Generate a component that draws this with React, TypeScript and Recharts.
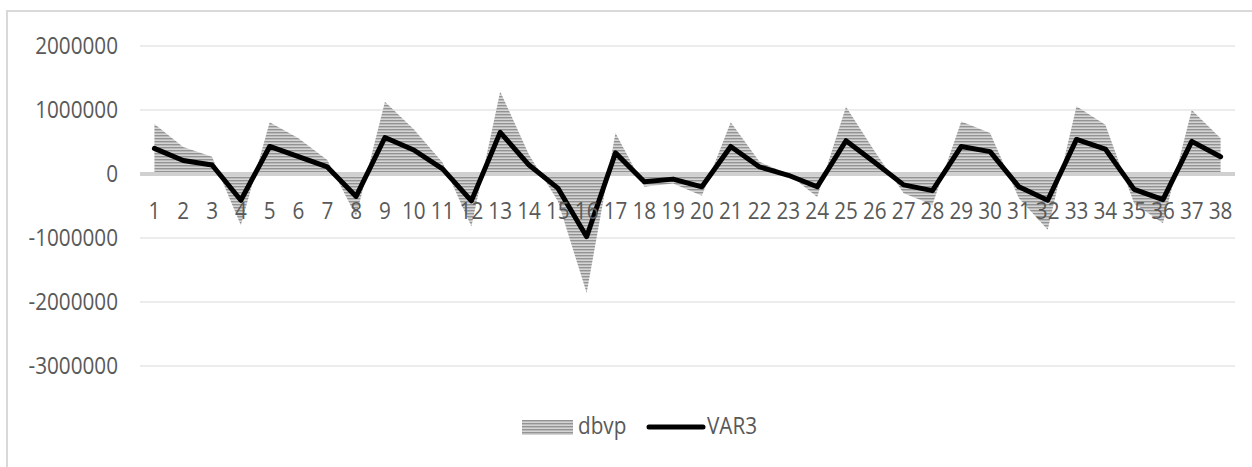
import {
  Area, CartesianGrid, ComposedChart, Legend, Line, ReferenceLine, XAxis, YAxis,
} from "recharts";

const W = 1252;
const H = 467;

const categories = [
  "1", "2", "3", "4", "5", "6", "7", "8", "9", "10", "11", "12", "13", "14", "15", "16", "17", "18", "19",
  "20", "21", "22", "23", "24", "25", "26", "27", "28", "29", "30", "31", "32", "33", "34", "35", "36", "37", "38",
];

const dbvp = [
  780000, 420000, 270000, -800000, 810000, 560000, 220000, -660000, 1130000, 700000,
  180000, -820000, 1290000, 300000, -420000, -1860000, 640000, -200000, -150000, -340000,
  810000, 190000, 0, -360000, 1050000, 350000, -300000, -480000, 820000, 640000,
  -380000, -870000, 1060000, 770000, -460000, -770000, 1000000, 560000,
];

const var3 = [
  400000, 210000, 140000, -410000, 430000, 270000, 110000, -350000, 570000, 375000,
  80000, -420000, 650000, 140000, -220000, -980000, 330000, -120000, -80000, -200000,
  430000, 110000, -20000, -200000, 520000, 180000, -170000, -260000, 430000, 350000,
  -200000, -410000, 540000, 390000, -240000, -400000, 510000, 270000,
];

const yTicks = [-3000000, -2000000, -1000000, 0, 1000000, 2000000];
const Y_MIN = -3000000;
const Y_MAX = 2000000;

const data = categories.map((c, i) => ({ name: c, dbvp: dbvp[i], VAR3: var3[i] }));

const margin = { top: 46, right: 17, bottom: 71, left: 0 };
const plotW = W - margin.left - margin.right - 140;
const plotH = H - margin.top - margin.bottom - 30;
// points sit in the middle of each category slot
const halfSlot = plotW / categories.length / 2;
// category labels sit just under the zero line, like an axis crossing at 0
const zeroY = margin.top + (Y_MAX / (Y_MAX - Y_MIN)) * plotH;

const TEXT = "#595959";
const FONT = "'Open Sans', sans-serif";

function StripeDefs({ id }: { id: string }) {
  return (
    <defs>
      <pattern id={id} width={4} height={3} patternUnits="userSpaceOnUse">
        <rect width={4} height={3} fill="#d4d4d4" />
        <rect width={4} height={1.4} fill="#939393" />
      </pattern>
    </defs>
  );
}

function XTick({ x, payload }: any) {
  return (
    <text transform={`translate(${x} ${zeroY + 45}) scale(0.9 1)`} textAnchor="middle"
      fill={TEXT} fontFamily={FONT} fontSize={23}>
      {payload.value}
    </text>
  );
}

function YTick({ x, y, payload }: any) {
  return (
    <text transform={`translate(${x} ${y}) scale(0.9 1)`} textAnchor="end" dy="0.355em"
      fill={TEXT} fontFamily={FONT} fontSize={23}>
      {payload.value}
    </text>
  );
}

function LegendBox() {
  return (
    <svg width={250} height={32} style={{ display: "block", overflow: "visible" }}>
      <StripeDefs id="legendStripes" />
      <rect x={0} y={6} width={51} height={15} fill="url(#legendStripes)" />
      <text transform="translate(56 20) scale(0.9 1)" fill={TEXT} fontFamily={FONT} fontSize={23}>dbvp</text>
      <line x1={127} y1={13} x2={181} y2={13} stroke="#000" strokeWidth={5} strokeLinecap="round" />
      <text transform="translate(185 20) scale(0.9 1)" fill={TEXT} fontFamily={FONT} fontSize={23}>VAR3</text>
    </svg>
  );
}

export default function App() {
  return (
    <div style={{ position: "fixed", left: 0, top: 0, width: W, height: H, overflow: "hidden", background: "#fff" }}>
      <div style={{
        position: "absolute", left: 6, top: 10, width: 1300, height: 500,
        borderLeft: "2px solid #d9d9d9", borderTop: "2px solid #d9d9d9",
      }} />
      <div style={{ position: "absolute", left: 0, top: 0 }}>
        <ComposedChart width={W} height={H} data={data} margin={margin}>
          <StripeDefs id="dbvpStripes" />
          <CartesianGrid horizontal vertical={false} stroke="#d9d9d9" strokeWidth={1} />
          <XAxis dataKey="name" height={30} axisLine={false} tickLine={false} interval={0}
            padding={{ left: halfSlot, right: halfSlot }} tick={<XTick />} />
          <YAxis width={140} domain={[Y_MIN, Y_MAX]} ticks={yTicks} axisLine={false} tickLine={false}
            tickSize={0} tickMargin={22} tick={<YTick />} interval={0} />
          <ReferenceLine y={0} stroke="#d0d0d0" strokeWidth={4} />
          <Area type="linear" dataKey="dbvp" baseValue={0} stroke="none" fill="url(#dbvpStripes)"
            fillOpacity={1} isAnimationActive={false} />
          <Line type="linear" dataKey="VAR3" stroke="#000" strokeWidth={5} dot={false}
            strokeLinejoin="round" strokeLinecap="round" isAnimationActive={false} />
          <Legend layout="horizontal" verticalAlign="middle" align="center"
            wrapperStyle={{ left: 522, top: 414, width: 250, height: 32 }} content={<LegendBox />} />
        </ComposedChart>
      </div>
    </div>
  );
}
